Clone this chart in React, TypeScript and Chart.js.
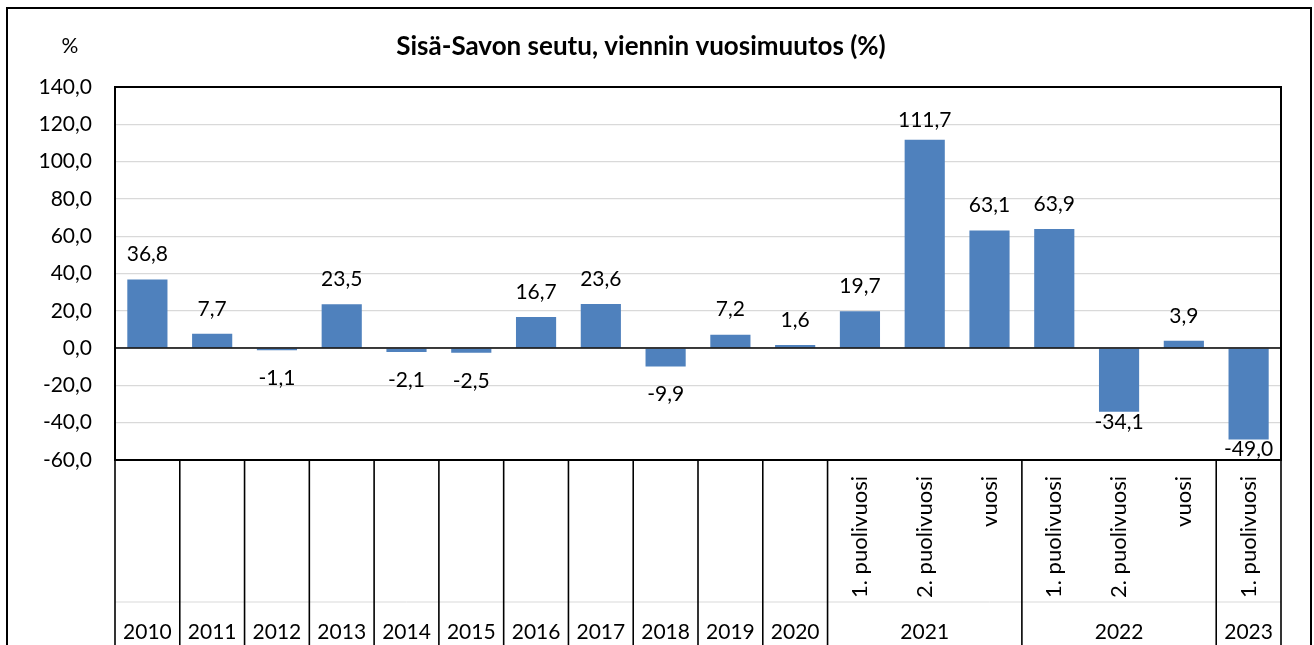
import React, { useEffect, useRef } from "react";
import { Chart, registerables } from "chart.js";

Chart.register(...registerables);

const categories = [
  "2010", "2011", "2012", "2013", "2014", "2015", "2016", "2017", "2018", "2019", "2020",
  "2021 H1", "2021 H2", "2021", "2022 H1", "2022 H2", "2022", "2023 H1",
];
const values = [36.8, 7.7, -1.1, 23.5, -2.1, -2.5, 16.7, 23.6, -9.9, 7.2, 1.6, 19.7, 111.7, 63.1, 63.9, -34.1, 3.9, -49.0];
const subLabels = [
  "", "", "", "", "", "", "", "", "", "", "",
  "1. puolivuosi", "2. puolivuosi", "vuosi", "1. puolivuosi", "2. puolivuosi", "vuosi", "1. puolivuosi",
];
const groupLabels = ["2010", "2011", "2012", "2013", "2014", "2015", "2016", "2017", "2018", "2019", "2020", "2021", "2022", "2023"];
const groupSpans = [1, 1, 1, 1, 1, 1, 1, 1, 1, 1, 1, 3, 3, 1];
const yTicks = { min: -60, max: 140, step: 20 };
const titleText = "Sisä-Savon seutu, viennin vuosimuutos (%)";
const unitText = "%";

const FONT = "Lato, 'Liberation Sans', sans-serif";
const FS = 21;
const fmt = (v: number) => v.toFixed(1).replace(".", ",");

const decor = {
  id: "decor",
  beforeDraw(chart: any) {
    const c = chart.ctx;
    c.save();
    c.fillStyle = "#fff";
    c.fillRect(0, 0, chart.width, chart.height);
    c.restore();
  },
  afterDatasetsDraw(chart: any) {
    const c = chart.ctx;
    const ca = chart.chartArea;
    const y = chart.scales.y;
    const y0 = y.getPixelForValue(0);
    c.save();
    c.strokeStyle = "#000";
    c.lineWidth = 1.5;
    c.beginPath();
    c.moveTo(ca.left, y0);
    c.lineTo(ca.right, y0);
    c.stroke();
    const meta = chart.getDatasetMeta(0);
    c.font = `${FS}px ${FONT}`;
    c.fillStyle = "#000";
    c.textAlign = "center";
    c.textBaseline = "middle";
    meta.data.forEach((bar: any, i: number) => {
      const v = values[i];
      let ty;
      if (v >= 0) {
        ty = Math.max(bar.y - 25, ca.top + 33);
      } else {
        const h = bar.y - y0;
        ty = h > 30 ? bar.y + 11 : bar.y + 28;
        ty = Math.min(ty, ca.bottom - 11);
      }
      c.fillText(fmt(v), bar.x, ty);
    });
    c.restore();
  },
  afterDraw(chart: any) {
    const c = chart.ctx;
    const ca = chart.chartArea;
    const x = chart.scales.x;
    const n = categories.length;
    const cw = (ca.right - ca.left) / n;
    c.save();
    c.strokeStyle = "#000";
    c.lineWidth = 2;
    c.strokeRect(7, 8, 1304, 700);
    c.strokeRect(ca.left, ca.top, ca.right - ca.left, ca.bottom - ca.top);
    c.strokeStyle = "#d9d9d9";
    c.lineWidth = 1;
    c.beginPath();
    c.moveTo(ca.left, 602);
    c.lineTo(ca.right, 602);
    c.stroke();
    c.strokeStyle = "#000";
    c.lineWidth = 1.6;
    let idx = 0;
    const bounds = [0];
    groupSpans.forEach((s) => {
      idx += s;
      bounds.push(idx);
    });
    bounds.forEach((b) => {
      const px = x.getPixelForValue(Math.min(b, n - 1)) + (b >= n ? cw / 2 : -cw / 2);
      c.beginPath();
      c.moveTo(px, ca.bottom);
      c.lineTo(px, chart.height + 5);
      c.stroke();
    });
    c.fillStyle = "#000";
    c.font = `${FS}px ${FONT}`;
    c.textAlign = "center";
    c.textBaseline = "middle";
    groupLabels.forEach((g, gi) => {
      const a = bounds[gi];
      const b = bounds[gi + 1] - 1;
      const cx = (x.getPixelForValue(a) + x.getPixelForValue(b)) / 2;
      c.fillText(g, cx, 632);
    });
    c.font = `22px ${FONT}`;
    subLabels.forEach((s, i) => {
      if (!s) return;
      const cx = x.getPixelForValue(i);
      c.save();
      c.translate(cx, ca.bottom + 16);
      c.rotate(-Math.PI / 2);
      c.textAlign = "right";
      c.textBaseline = "middle";
      c.fillText(s, 0, 0);
      c.restore();
    });
    c.font = `bold 26px ${FONT}`;
    c.textAlign = "center";
    c.fillText(titleText, 641, 47);
    c.font = `${FS}px ${FONT}`;
    c.fillText(unitText, 70, 46);
    c.restore();
  },
};

export default function App() {
  const ref = useRef<HTMLCanvasElement>(null);
  useEffect(() => {
    if (!ref.current) return;
    const chart = new Chart(ref.current, {
      type: "bar",
      data: {
        labels: categories,
        datasets: [
          {
            data: values,
            backgroundColor: "#4F81BD",
            barPercentage: 0.62,
            categoryPercentage: 1,
          },
        ],
      },
      options: {
        responsive: false,
        animation: false,
        devicePixelRatio: 1,
        layout: { padding: { left: 0, top: 87, right: 33, bottom: 185 } },
        plugins: { legend: { display: false }, tooltip: { enabled: false }, title: { display: false } },
        scales: {
          x: { display: false },
          y: {
            min: yTicks.min,
            max: yTicks.max,
            afterFit: (s: any) => {
              s.width = 115;
            },
            ticks: {
              stepSize: yTicks.step,
              padding: 23,
              color: "#000",
              font: { family: FONT, size: FS },
              callback: (v: any) => fmt(Number(v)),
            },
            grid: { color: "#d9d9d9", lineWidth: 1.2, drawTicks: false },
            border: { display: false },
          },
        },
      },
      plugins: [decor],
    });
    return () => chart.destroy();
  }, []);
  return (
    <div style={{ position: "fixed", left: 0, top: 0, width: 1314, height: 645, background: "#fff" }}>
      <canvas ref={ref} width={1314} height={645} style={{ display: "block" }} />
    </div>
  );
}
